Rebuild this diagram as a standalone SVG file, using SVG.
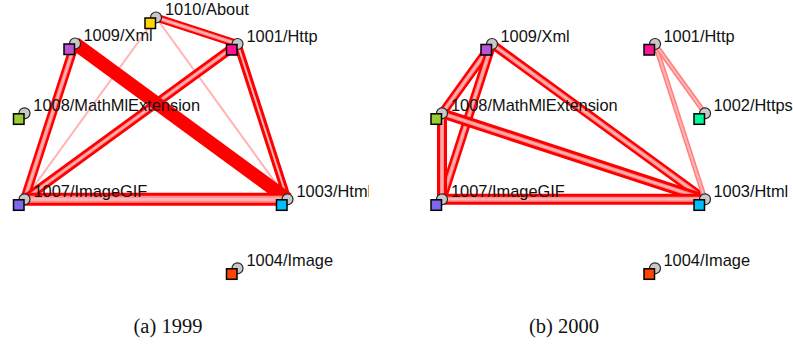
<svg xmlns="http://www.w3.org/2000/svg" width="793" height="351" viewBox="0 0 793 351">
<defs>
<style>
.bg{fill:#fff}
.r{stroke:#ff0000;stroke-linecap:butt;fill:none}
.p{stroke:#ff8c8c;stroke-linecap:butt;fill:none}
.l{stroke:#ffb4b4;stroke-linecap:butt;fill:none}
.q{stroke:#ff8080;stroke-linecap:butt;fill:none}
.dot{fill:#c8c8c8;stroke:#222;stroke-width:1.2}
.sq{stroke:#000;stroke-width:1.5}
.lbl{font-family:"Liberation Sans",Arial,sans-serif;font-size:16.4px;fill:#111}
.cap{font-family:"Liberation Serif","Times New Roman",serif;font-size:20.5px;fill:#111;text-anchor:middle}
</style>
<clipPath id="clipA"><rect x="0" y="0" width="369" height="351"/></clipPath>
</defs>
<rect class="bg" x="0" y="0" width="793" height="351"/>

<g id="panel-1999" clip-path="url(#clipA)">
<g id="connectors-1999">
<g id="e1999-1010-1007"><line class="l" stroke-width="2" x1="156" y1="17.5" x2="24.5" y2="199.3"/></g>
<g id="e1999-1010-1003"><line class="l" stroke-width="2" x1="156" y1="17.5" x2="287.5" y2="199.3"/></g>
<g id="e1999-1009-1007"><line class="r" stroke-width="9" x1="75" y1="43.5" x2="24.5" y2="199.3"/><line class="p" stroke-width="4" x1="75" y1="43.5" x2="24.5" y2="199.3"/><line class="l" stroke-width="1.5" x1="75" y1="43.5" x2="24.5" y2="199.3"/></g>
<g id="e1999-1001-1007"><line class="r" stroke-width="9" x1="237.5" y1="44" x2="24.5" y2="199.3"/><line class="p" stroke-width="3.5" x1="237.5" y1="44" x2="24.5" y2="199.3"/><line class="l" stroke-width="1.5" x1="237.5" y1="44" x2="24.5" y2="199.3"/></g>
<g id="e1999-1010-1001"><line class="r" stroke-width="8" x1="156" y1="17.5" x2="237.5" y2="44"/><line class="p" stroke-width="3.5" x1="156" y1="17.5" x2="237.5" y2="44"/><line class="l" stroke-width="1.5" x1="156" y1="17.5" x2="237.5" y2="44"/></g>
<g id="e1999-1001-1003"><line class="r" stroke-width="8" x1="237.5" y1="44" x2="287.5" y2="199.3"/><line class="l" stroke-width="2" x1="237.5" y1="44" x2="287.5" y2="199.3"/></g>
<g id="e1999-1009-1003"><line class="r" stroke-width="13.5" x1="75" y1="43.5" x2="287.5" y2="199.3"/></g>
<g id="e1999-1007-1003"><line class="r" stroke-width="13" x1="24.5" y1="199.3" x2="287.5" y2="199.3"/><line class="p" stroke-width="7" x1="24.5" y1="199.3" x2="287.5" y2="199.3"/><line class="l" stroke-width="3" x1="24.5" y1="199.3" x2="287.5" y2="199.3"/></g>
</g>

<g id="n1999-1010"><circle class="dot" cx="156" cy="17.5" r="5.5"/><rect class="sq" fill="#ffd700" x="145" y="18" width="10.5" height="10.5"/><text class="lbl" x="165" y="15">1010/About</text></g>
<g id="n1999-1009"><circle class="dot" cx="75" cy="43.5" r="5.5"/><rect class="sq" fill="#ba55d3" x="64" y="44" width="10.5" height="10.5"/><text class="lbl" x="83.5" y="41">1009/Xml</text></g>
<g id="n1999-1001"><circle class="dot" cx="237.5" cy="44" r="5.5"/><rect class="sq" fill="#ff1493" x="226.5" y="44.5" width="10.5" height="10.5"/><text class="lbl" x="246.5" y="41.5">1001/Http</text></g>
<g id="n1999-1008"><circle class="dot" cx="24.5" cy="113.3" r="5.5"/><rect class="sq" fill="#9acd32" x="13.5" y="113.8" width="10.5" height="10.5"/><text class="lbl" x="33.3" y="110.8">1008/MathMlExtension</text></g>
<g id="n1999-1007"><circle class="dot" cx="24.5" cy="199.3" r="5.5"/><rect class="sq" fill="#7b68ee" x="13.5" y="199.8" width="10.5" height="10.5"/><text class="lbl" x="33.5" y="196.8">1007/ImageGIF</text></g>
<g id="n1999-1003"><circle class="dot" cx="287.5" cy="199.3" r="5.5"/><rect class="sq" fill="#00bfff" x="276.5" y="199.8" width="10.5" height="10.5"/><text class="lbl" x="296.5" y="196.8">1003/Html</text></g>
<g id="n1999-1004"><circle class="dot" cx="237.5" cy="268.3" r="5.5"/><rect class="sq" fill="#ff4500" x="226.5" y="268.8" width="10.5" height="10.5"/><text class="lbl" x="246.5" y="265.8">1004/Image</text></g>
</g>
<text class="cap" x="168" y="333">(a) 1999</text>

<g id="panel-2000">
<g id="connectors-2000">
<g id="e2000-1009-1008"><line class="r" stroke-width="9" x1="492" y1="44" x2="442" y2="113.3"/><line class="p" stroke-width="4" x1="492" y1="44" x2="442" y2="113.3"/><line class="l" stroke-width="1.5" x1="492" y1="44" x2="442" y2="113.3"/></g>
<g id="e2000-1009-1007"><line class="r" stroke-width="9" x1="492" y1="44" x2="442" y2="199.3"/><line class="p" stroke-width="4" x1="492" y1="44" x2="442" y2="199.3"/><line class="l" stroke-width="1.5" x1="492" y1="44" x2="442" y2="199.3"/></g>
<g id="e2000-1008-1007"><line class="r" stroke-width="10" x1="442" y1="113.3" x2="442" y2="199.3"/><line class="p" stroke-width="4" x1="442" y1="113.3" x2="442" y2="199.3"/><line class="l" stroke-width="1.5" x1="442" y1="113.3" x2="442" y2="199.3"/></g>
<g id="e2000-1009-1003"><line class="r" stroke-width="9" x1="492" y1="44" x2="705" y2="199.3"/><line class="p" stroke-width="4" x1="492" y1="44" x2="705" y2="199.3"/><line class="l" stroke-width="1.5" x1="492" y1="44" x2="705" y2="199.3"/></g>
<g id="e2000-1008-1003"><line class="r" stroke-width="10" x1="442" y1="113.3" x2="705" y2="199.3"/><line class="p" stroke-width="4" x1="442" y1="113.3" x2="705" y2="199.3"/><line class="l" stroke-width="1.5" x1="442" y1="113.3" x2="705" y2="199.3"/></g>
<g id="e2000-1007-1003"><line class="r" stroke-width="11" x1="442" y1="199.3" x2="705" y2="199.3"/><line class="p" stroke-width="5" x1="442" y1="199.3" x2="705" y2="199.3"/><line class="l" stroke-width="2" x1="442" y1="199.3" x2="705" y2="199.3"/></g>
<g id="e2000-1001-1003"><line class="q" stroke-width="5" x1="655" y1="44" x2="705" y2="199.3"/><line class="l" stroke-width="2" x1="655" y1="44" x2="705" y2="199.3"/></g>
<g id="e2000-1001-1002"><line class="q" stroke-width="5" x1="655" y1="44" x2="705" y2="113.3"/><line class="l" stroke-width="2" x1="655" y1="44" x2="705" y2="113.3"/></g>
</g>

<g id="n2000-1009"><circle class="dot" cx="492" cy="44" r="5.5"/><rect class="sq" fill="#ba55d3" x="481" y="44.5" width="10.5" height="10.5"/><text class="lbl" x="500.5" y="41.5">1009/Xml</text></g>
<g id="n2000-1001"><circle class="dot" cx="655" cy="44" r="5.5"/><rect class="sq" fill="#ff1493" x="644" y="44.5" width="10.5" height="10.5"/><text class="lbl" x="663.5" y="41.5">1001/Http</text></g>
<g id="n2000-1008"><circle class="dot" cx="442" cy="113.3" r="5.5"/><rect class="sq" fill="#9acd32" x="431" y="113.8" width="10.5" height="10.5"/><text class="lbl" x="451" y="110.8">1008/MathMlExtension</text></g>
<g id="n2000-1002"><circle class="dot" cx="705" cy="113.3" r="5.5"/><rect class="sq" fill="#00fa9a" x="694" y="113.8" width="10.5" height="10.5"/><text class="lbl" x="713.5" y="110.8">1002/Https</text></g>
<g id="n2000-1007"><circle class="dot" cx="442" cy="199.3" r="5.5"/><rect class="sq" fill="#7b68ee" x="431" y="199.8" width="10.5" height="10.5"/><text class="lbl" x="451" y="196.8">1007/ImageGIF</text></g>
<g id="n2000-1003"><circle class="dot" cx="705" cy="199.3" r="5.5"/><rect class="sq" fill="#00bfff" x="694" y="199.8" width="10.5" height="10.5"/><text class="lbl" x="713.5" y="196.8">1003/Html</text></g>
<g id="n2000-1004"><circle class="dot" cx="655" cy="268.3" r="5.5"/><rect class="sq" fill="#ff4500" x="644" y="268.8" width="10.5" height="10.5"/><text class="lbl" x="663.5" y="265.8">1004/Image</text></g>
</g>
<text class="cap" x="564" y="333">(b) 2000</text>
</svg>
